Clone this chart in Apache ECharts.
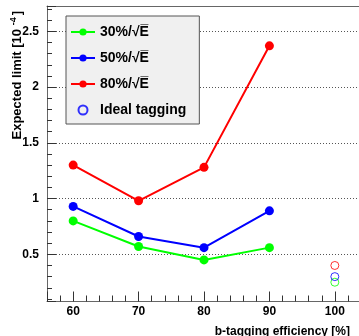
<!DOCTYPE html>
<html>
<head>
<meta charset="utf-8">
<script src="https://cdn.jsdelivr.net/npm/echarts@6/dist/echarts.min.js"></script>
<style>
  html, body { margin: 0; padding: 0; background: #fff; }
  #chart { width: 359px; height: 336px; }
</style>
</head>
<body>
<div id="chart"></div>
<script>
// b-tagging efficiency [%] for the three resolution scenarios
const efficiency = [60, 70, 80, 90];
const limit30 = [0.80, 0.57, 0.45, 0.56];
const limit50 = [0.93, 0.66, 0.56, 0.89];
const limit80 = [1.30, 0.98, 1.28, 2.37];

// ideal tagging points at 100 % efficiency (30 %, 50 %, 80 % resolution)
const idealEfficiency = 100;
const idealLimits = [0.25, 0.30, 0.40];

const seriesNames = ['30%/√E\u0305', '50%/√E\u0305', '80%/√E\u0305', 'Ideal tagging'];
const seriesColors = ['#00ff00', '#0000ff', '#ff0000'];

const xTickLabels = [60, 70, 80, 90, 100];
const yTickLabels = [0.5, 1, 1.5, 2, 2.5];

const FONT = '"Liberation Sans", Arial, Helvetica, sans-serif';

function pairs(xs, ys) {
  return xs.map((x, i) => [x, ys[i]]);
}

function lineSeries(name, values, color) {
  return {
    name: name,
    type: 'line',
    data: pairs(efficiency, values),
    symbol: 'circle',
    symbolSize: 9,
    lineStyle: { color: color, width: 2 },
    itemStyle: { color: color },
    emphasis: { disabled: true },
    animation: false,
    z: 3
  };
}

const chart = echarts.init(document.getElementById('chart'), null, { renderer: 'canvas' });

const option = {
  animation: false,
  backgroundColor: '#ffffff',
  grid: { left: 47, top: 6, width: 314, height: 295.5, containLabel: false, outerBoundsMode: 'none' },
  xAxis: [{
    type: 'value',
    min: 56, max: 104,
    minInterval: 10, maxInterval: 10,
    name: 'b-tagging efficiency [%]',
    nameLocation: 'end',
    nameGap: -11,
    nameMoveOverlap: false,
    nameTextStyle: {
      fontFamily: FONT, fontWeight: 'bold', fontSize: 12, color: '#000',
      align: 'right', verticalAlign: 'top', padding: [24, 0, 0, 0]
    },
    axisLine: { show: true, lineStyle: { color: '#666', width: 1 } },
    axisTick: { show: true, inside: true, length: 10, lineStyle: { color: '#333', width: 1 } },
    minorTick: { show: true, splitNumber: 5, length: 6, lineStyle: { color: '#333', width: 1 } },
    splitLine: { show: false },
    axisLabel: {
      fontFamily: FONT, fontWeight: 'bold', fontSize: 12, color: '#000', margin: 4,
      formatter: v => (xTickLabels.includes(Math.round(v * 1000) / 1000) ? String(v) : '')
    }
  }, {
    type: 'value',
    position: 'top',
    min: 56, max: 104,
    axisLine: { show: true, lineStyle: { color: '#666', width: 1 } },
    axisTick: { show: false },
    axisLabel: { show: false },
    splitLine: { show: false }
  }],
  yAxis: {
    type: 'value',
    min: 0.077, max: 2.727,
    minInterval: 0.5, maxInterval: 0.5,
    name: 'Expected limit [10 {sup|-4}]',
    nameLocation: 'end',
    nameRotate: 90,
    nameGap: -5,
    nameMoveOverlap: false,
    nameTextStyle: {
      fontFamily: FONT, fontWeight: 'bold', fontSize: 13, color: '#000',
      align: 'right', verticalAlign: 'bottom', padding: [0, 0, 21, 0],
      rich: {
        sup: { fontFamily: FONT, fontWeight: 'bold', fontSize: 9, color: '#000', padding: [0, 2, 8, 0] }
      }
    },
    axisLine: { show: true, lineStyle: { color: '#666', width: 1 } },
    axisTick: { show: true, inside: true, length: 9, lineStyle: { color: '#333', width: 1 } },
    minorTick: { show: true, splitNumber: 5, length: 5, lineStyle: { color: '#333', width: 1 } },
    splitLine: { show: true, lineStyle: { color: '#555', width: 1, type: [1, 2] } },
    axisLabel: {
      fontFamily: FONT, fontWeight: 'bold', fontSize: 12, color: '#000', margin: 8,
      formatter: v => (yTickLabels.includes(Math.round(v * 1000) / 1000) ? String(v) : '')
    }
  },
  legend: {
    orient: 'vertical',
    left: 66, top: 16,
    padding: [9, 13, 7, 4],
    itemGap: 12,
    itemWidth: 24,
    itemHeight: 9,
    backgroundColor: '#f0f0f0',
    borderColor: '#555',
    borderWidth: 1,
    borderRadius: 0,
    selectedMode: false,
    textStyle: { fontFamily: FONT, fontWeight: 'bold', fontSize: 14, color: '#000' },
    data: seriesNames
  },
  series: [
    lineSeries(seriesNames[0], limit30, seriesColors[0]),
    lineSeries(seriesNames[1], limit50, seriesColors[1]),
    lineSeries(seriesNames[2], limit80, seriesColors[2]),
    {
      name: seriesNames[3],
      type: 'scatter',
      symbol: 'circle',
      symbolSize: 8,
      itemStyle: { color: 'rgba(0,0,0,0)', borderColor: '#0000ff', borderWidth: 1 },
      emphasis: { disabled: true },
      data: idealLimits.map((v, i) => ({
        value: [idealEfficiency, v],
        itemStyle: { color: 'rgba(0,0,0,0)', borderColor: seriesColors[i], borderWidth: 1 }
      })),
      z: 4
    }
  ]
};

chart.setOption(option);
</script>
</body>
</html>
